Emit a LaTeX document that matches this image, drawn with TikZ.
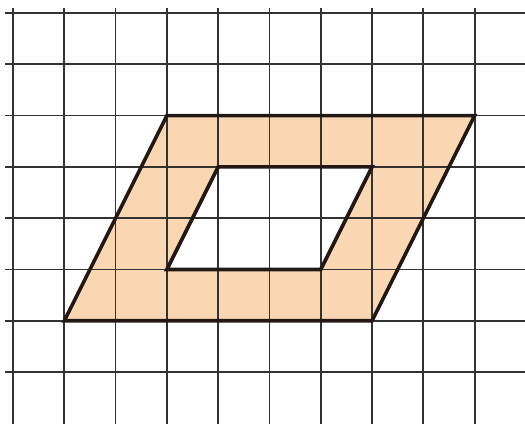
\documentclass[tikz,border=0pt]{standalone}
\usepackage{tikz}
\usepackage{xcolor}
\definecolor{peach}{RGB}{251,214,178}
\definecolor{gridgray}{RGB}{50,50,50}
\definecolor{edgeblack}{RGB}{35,25,20}
\tikzset{
    grid-line/.style = {draw=gridgray, line width=1pt},
    frame-fill/.style = {fill=peach, even odd rule},
    frame-edge/.style = {draw=edgeblack, line width=2pt, line join=miter},
}

\begin{document}
\begin{tikzpicture}
\useasboundingbox (-0.253,-1.012) rectangle (9.981,7.253);
% corners of the frame
\coordinate (outer-bl) at (1,1);
\coordinate (outer-br) at (7,1);
\coordinate (outer-tr) at (9,5);
\coordinate (outer-tl) at (3,5);
\coordinate (inner-bl) at (3,2);
\coordinate (inner-br) at (6,2);
\coordinate (inner-tr) at (7,4);
\coordinate (inner-tl) at (4,4);
\fill[frame-fill] (outer-bl) -- (outer-br) -- (outer-tr) -- (outer-tl) -- cycle
    (inner-bl) -- (inner-br) -- (inner-tr) -- (inner-tl) -- cycle;
% grid
\foreach \i in {0,...,9}
    \draw[grid-line] (\i,-1.012) -- (\i,7.097);
\foreach \j in {0,...,7}
    \draw[grid-line] (-0.156,\j) -- (9.981,\j);
\draw[frame-edge] (outer-bl) -- (outer-br) -- (outer-tr) -- (outer-tl) -- cycle;
\draw[frame-edge] (inner-bl) -- (inner-br) -- (inner-tr) -- (inner-tl) -- cycle;
\end{tikzpicture}
\end{document}
